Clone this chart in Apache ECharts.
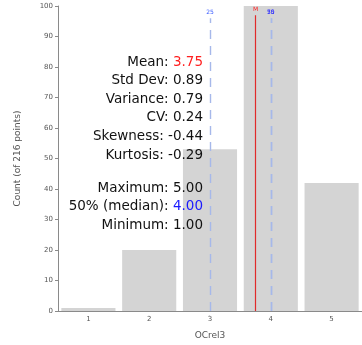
<!DOCTYPE html>
<html>
<head>
<meta charset="utf-8">
<script src="https://cdn.jsdelivr.net/npm/echarts@6/dist/echarts.min.js"></script>
<style>
  html, body { margin: 0; padding: 0; background: #fff; }
  #chart { width: 362px; height: 345px; }
</style>
</head>
<body>
<div id="chart"></div>
<script>
// Histogram of OCrel3 responses (216 points)
const categories = ['1', '2', '3', '4', '5'];
const counts = [1, 20, 53, 100, 42];

// Reference lines: quartiles and mean
const meanValue = 3.75;
const q25Value = 3;
const medianValue = 4;
const q75Value = 4;

// Summary statistics block (two groups)
const statNames = ['Mean', 'Std Dev', 'Variance', 'CV', 'Skewness', 'Kurtosis', 'Maximum', '50% (median)', 'Minimum'];
const statValues = ['3.75', '0.89', '0.79', '0.24', '-0.44', '-0.29', '5.00', '4.00', '1.00'];
const statValueColors = ['#ff2020', '#111', '#111', '#111', '#111', '#111', '#111', '#1a1aff', '#111'];

const chart = echarts.init(document.getElementById('chart'), null, { renderer: 'canvas' });

const FONT = 'DejaVu Sans';
const axisColor = '#8a8a8a';
const labelColor = '#555';

const statGraphics = [];
const statTop = 62;
const statStep = 18.6;
const groupGap = 14.4;
statNames.forEach((name, i) => {
  const y = statTop + i * statStep + (i >= 6 ? groupGap : 0);
  const rich = {
    n: { fontFamily: FONT, fontSize: 13.5, fill: '#111' },
    v: { fontFamily: FONT, fontSize: 13.5, fill: statValueColors[i] }
  };
  statGraphics.push({
    type: 'text',
    x: 203,
    y: y,
    z: 100,
    style: {
      text: '{n|' + name + ': }{v|' + statValues[i] + '}',
      fontFamily: FONT,
      fontSize: 13.5,
      align: 'right',
      verticalAlign: 'middle',
      rich: rich
    }
  });
});

function vline(x, top, color, type, width, label, labelColor) {
  return [
    { coord: [x, 0], lineStyle: { color: color, type: type, width: width, opacity: 1 },
      label: { show: true, position: 'end', formatter: label, color: labelColor, fontSize: 6, fontFamily: FONT, distance: 3 } },
    { coord: [x, top] }
  ];
}

const option = {
  animation: false,
  grid: { left: 58, right: 0, top: 6, bottom: 33 },
  xAxis: [
    {
      type: 'category',
      data: categories,
      axisLine: { lineStyle: { color: axisColor, width: 1 } },
      axisTick: { alignWithLabel: true, length: 3, lineStyle: { color: axisColor } },
      axisLabel: { color: labelColor, fontSize: 7, fontFamily: FONT, margin: 5 },
      name: 'OCrel3',
      nameLocation: 'middle',
      nameGap: 20,
      nameTextStyle: { color: labelColor, fontSize: 9, fontFamily: FONT }
    },
    {
      type: 'value',
      min: 0.5,
      max: 5.5,
      show: false
    }
  ],
  yAxis: {
    type: 'value',
    min: 0,
    max: 100,
    interval: 10,
    axisLine: { show: true, lineStyle: { color: axisColor, width: 1 } },
    axisTick: { show: true, length: 3, lineStyle: { color: axisColor } },
    splitLine: { show: false },
    axisLabel: { color: labelColor, fontSize: 7, fontFamily: FONT, margin: 5 },
    name: 'Count (of 216 points)',
    nameLocation: 'middle',
    nameGap: 36,
    nameRotate: 90,
    nameTextStyle: { color: labelColor, fontSize: 9, fontFamily: FONT }
  },
  series: [
    {
      type: 'bar',
      data: counts,
      barWidth: '89%',
      itemStyle: { color: '#d4d4d4' },
      silent: true
    },
    {
      type: 'scatter',
      xAxisIndex: 1,
      yAxisIndex: 0,
      data: [],
      silent: true,
      markLine: {
        symbol: 'none',
        silent: true,
        animation: false,
        data: [
          vline(q25Value, 96, '#a6b8ea', [9, 7], 1.4, '25', '#3a5cff'),
          vline(meanValue, 97, '#e02a2a', 'solid', 1.2, 'M', '#ff2020'),
          vline(medianValue, 96, '#a6b8ea', [9, 7], 1.4, '50', '#2a2aff'),
          vline(q75Value, 96, '#a6b8ea', [9, 7], 1.4, '75', '#2a2aff')
        ]
      }
    }
  ],
  graphic: statGraphics
};

chart.setOption(option);
</script>
</body>
</html>
